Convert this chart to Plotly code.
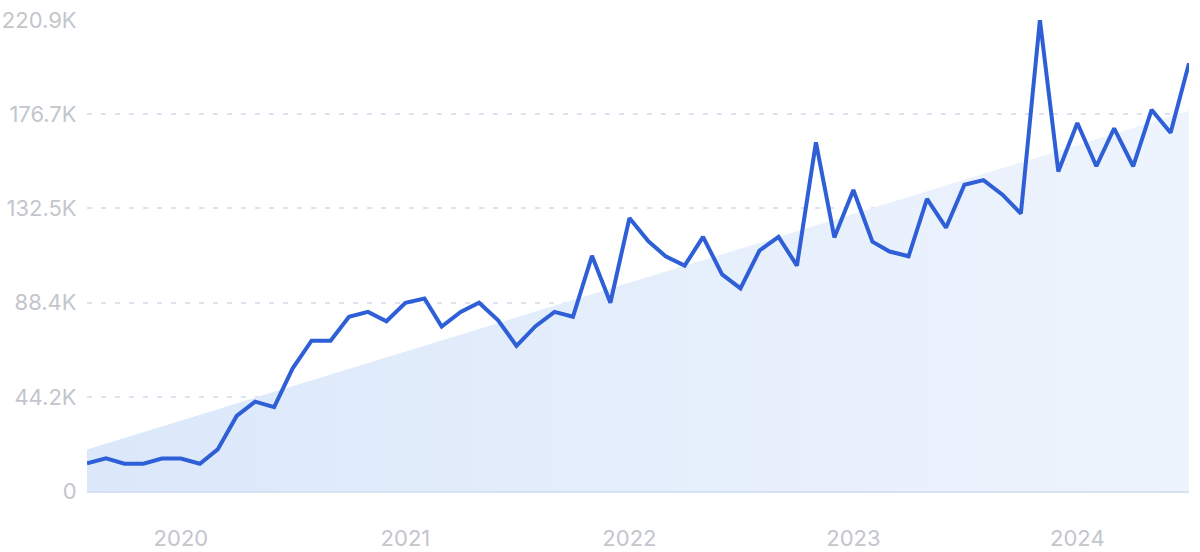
import plotly.graph_objects as go
import pandas as pd

# Monthly dates Aug 2019 .. Jul 2024
dates = pd.date_range("2019-08-01", "2024-07-01", freq="MS")

# Values in thousands (K)
values_k = [
    13.0, 15.3, 12.8, 12.8, 15.2,            # Aug-Dec 2019
    15.2, 12.8, 19.5, 35.2, 41.9, 39.3,      # Jan-Jun 2020
    57.4, 70.5, 70.5, 81.7, 84.0, 79.6,      # Jul-Dec 2020
    88.3, 90.3, 77.1, 84.0, 88.3, 80.1,      # Jan-Jun 2021
    68.1, 77.3, 84.0, 81.7, 110.3, 88.3,     # Jul-Dec 2021
    128.0, 117.1, 110.1, 105.7, 119.2, 101.6,  # Jan-Jun 2022
    95.0, 112.8, 119.2, 105.7, 163.5, 118.9,   # Jul-Dec 2022
    141.2, 116.9, 112.3, 110.1, 137.0, 123.5,  # Jan-Jun 2023
    143.6, 145.8, 139.0, 130.1, 220.9, 149.8,  # Jul-Dec 2023
    172.6, 152.3, 170.1, 152.3, 178.8, 168.0,  # Jan-Jun 2024
    200.6,                                      # Jul 2024
]
values = [v * 1000 for v in values_k]

# Trend line endpoints (thousands)
trend_dates = [dates[0], dates[-1]]
trend_k = [19.5, 178.3]
trend = [v * 1000 for v in trend_k]

# Axis ticks
y_tickvals = [0, 44180, 88360, 132540, 176720, 220900]
y_ticktext = ["0", "44.2K", "88.4K", "132.5K", "176.7K", "220.9K"]
x_tickvals = ["2020-01-01", "2021-01-01", "2022-01-01", "2023-01-01", "2024-01-01"]
x_ticktext = ["2020", "2021", "2022", "2023", "2024"]

fig = go.Figure()

fig.add_trace(go.Scatter(
    x=trend_dates, y=trend, mode="lines",
    line=dict(width=0, color="rgba(0,0,0,0)"),
    fill="tozeroy",
    fillgradient=dict(type="horizontal",
                      colorscale=[[0, "#dbe8fa"], [1, "#eef4fd"]]),
    hoverinfo="skip", showlegend=False,
))

fig.add_trace(go.Scatter(
    x=dates, y=values, mode="lines",
    line=dict(color="#2f5fd6", width=4),
    showlegend=False,
))

font_family = "Inter, Roboto, sans-serif"
label_color = "#c3c6cc"
fig.update_layout(
    width=1200, height=552,
    margin=dict(l=87, r=11, t=20, b=61, autoexpand=False),
    paper_bgcolor="white", plot_bgcolor="white",
    font=dict(family=font_family, color=label_color, size=22),
    showlegend=False,
)
fig.update_xaxes(
    range=[dates[0], dates[-1]],
    tickvals=x_tickvals, ticktext=x_ticktext,
    showgrid=False, zeroline=False, automargin=False,
    showline=True, linecolor="#d6e2f3", linewidth=1.5,
    ticks="outside", ticklen=27, tickcolor="rgba(0,0,0,0)",
    tickfont=dict(size=22, color=label_color),
)
fig.update_yaxes(
    range=[0, 220900],
    tickvals=y_tickvals, ticktext=y_ticktext,
    showgrid=True, gridcolor="#dbe3f1", griddash="5px,9px", gridwidth=1.5,
    zeroline=False, showline=False, automargin=False,
    ticks="outside", ticklen=5, tickcolor="rgba(0,0,0,0)",
    tickfont=dict(size=22, color=label_color),
)

fig.write_html(
    "out.html",
    config={"displayModeBar": False},
    post_script="document.body.style.margin='0';document.body.style.overflow='hidden';",
)
